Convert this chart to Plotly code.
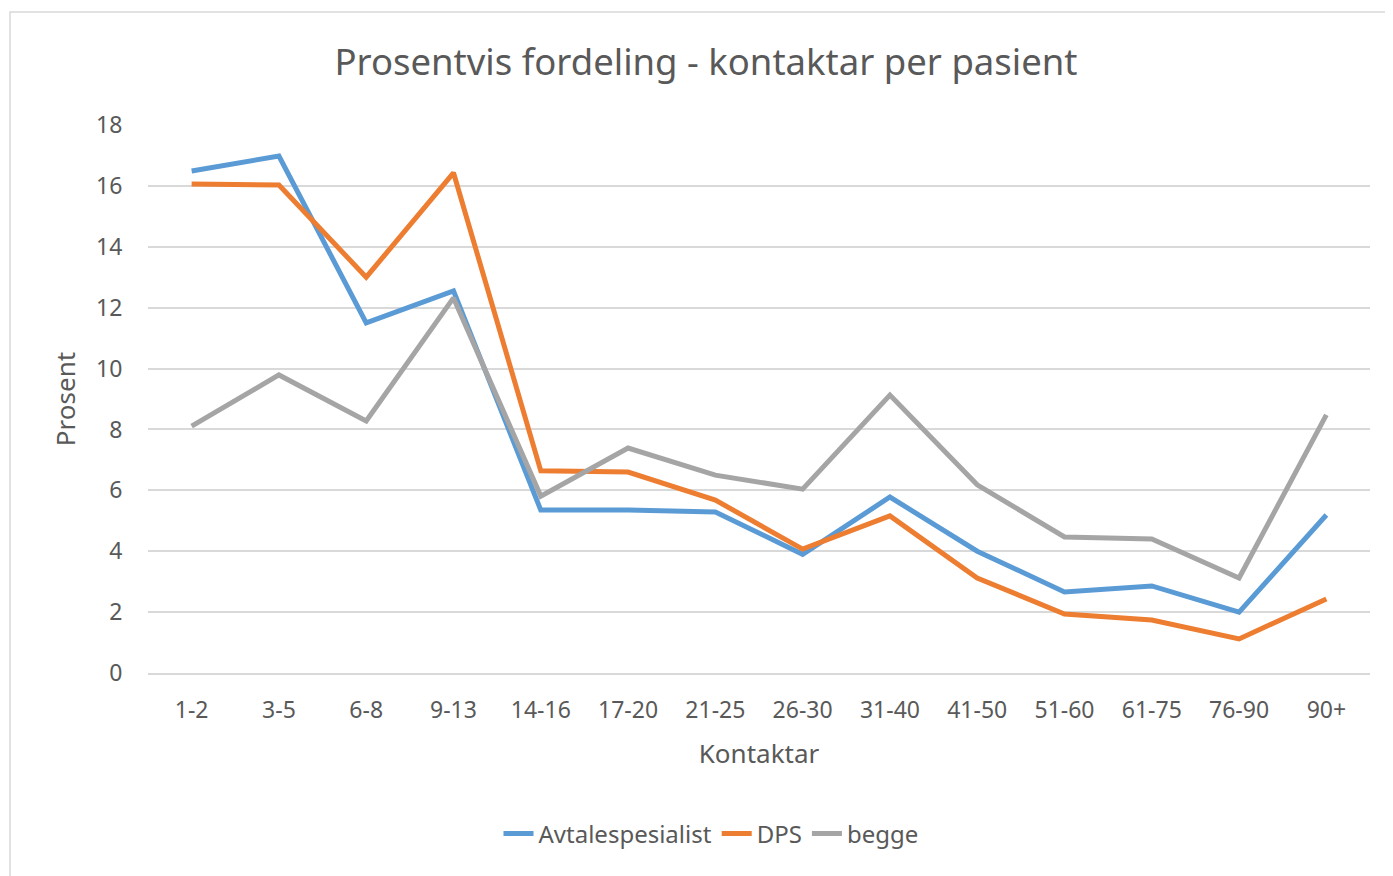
import plotly.graph_objects as go

categories = ["1-2", "3-5", "6-8", "9-13", "14-16", "17-20", "21-25", "26-30",
              "31-40", "41-50", "51-60", "61-75", "76-90", "90+"]
avtalespesialist = [16.49, 16.98, 11.5, 12.55, 5.35, 5.35, 5.29, 3.9, 5.78, 4.0, 2.66, 2.86, 2.0, 5.19]
dps = [16.06, 16.03, 13.0, 16.43, 6.64, 6.6, 5.68, 4.07, 5.16, 3.12, 1.94, 1.74, 1.12, 2.43]
begge = [8.11, 9.79, 8.28, 12.32, 5.81, 7.39, 6.5, 6.04, 9.13, 6.18, 4.47, 4.4, 3.12, 8.48]
y_ticks = [0, 2, 4, 6, 8, 10, 12, 14, 16, 18]

FONT = "Noto Sans"
TXT = "#595959"

# page has an 8px body margin; figure origin is at (8, 8)
OFF = 8
W, H = 1385, 868
L, T = 148 - OFF, 125 - OFF
R = W - (1370 - OFF)
B = H - (673 - OFF)
pw, ph = W - L - R, H - T - B

fig = go.Figure()
for name, vals, col in [("Avtalespesialist", avtalespesialist, "#5B9BD5"),
                        ("DPS", dps, "#ED7D31"),
                        ("begge", begge, "#A5A5A5")]:
    fig.add_trace(go.Scatter(x=categories, y=vals, name=name, mode="lines",
                             line=dict(color=col, width=5, shape="linear")))

fig.update_layout(
    width=W, height=H,
    margin=dict(l=L, r=R, t=T, b=B),
    paper_bgcolor="white", plot_bgcolor="white",
    font=dict(family=FONT, color=TXT, size=22),
    title=dict(text="Prosentvis fordeling - kontaktar per pasient",
               x=(706 - 148) / 1222, xanchor="center", xref="paper",
               y=1 - (62 - OFF) / H, yanchor="middle",
               font=dict(size=36.5, color=TXT, family=FONT)),
    showlegend=True,
    legend=dict(orientation="h", x=(711 - 148) / 1222, xanchor="center", xref="paper",
                y=-(834 - 673) / ph, yanchor="middle",
                font=dict(size=24, color=TXT, family=FONT)),
)
fig.update_xaxes(type="category", showgrid=False, showline=True, linecolor="#d9d9d9",
                 linewidth=1.5, ticks="outside", ticklen=16, tickcolor="rgba(0,0,0,0)",
                 tickfont=dict(size=23, color=TXT, family=FONT),
                 title=dict(text="Kontaktar", font=dict(size=26, color=TXT, family=FONT), standoff=20),
                 range=[-0.5, len(categories) - 0.5], zeroline=False)
fig.update_yaxes(range=[0, 18], tickvals=y_ticks, showgrid=True, gridcolor="#d9d9d9",
                 gridwidth=1.5, zeroline=False, showline=False,
                 ticks="outside", ticklen=20, tickcolor="rgba(0,0,0,0)",
                 tickfont=dict(size=23, color=TXT, family=FONT),
                 title=dict(text="Prosent", font=dict(size=26, color=TXT, family=FONT), standoff=12))

# chart border
fig.add_shape(type="rect", xref="paper", yref="paper",
              x0=(10 - 148) / pw, x1=(1393 + 20 - 148) / pw,
              y0=-(876 + 20 - 673) / ph, y1=1 + (125 - 12) / ph,
              line=dict(color="#d9d9d9", width=1.5), fillcolor="rgba(0,0,0,0)", layer="below")

fig.write_html("out.html")
